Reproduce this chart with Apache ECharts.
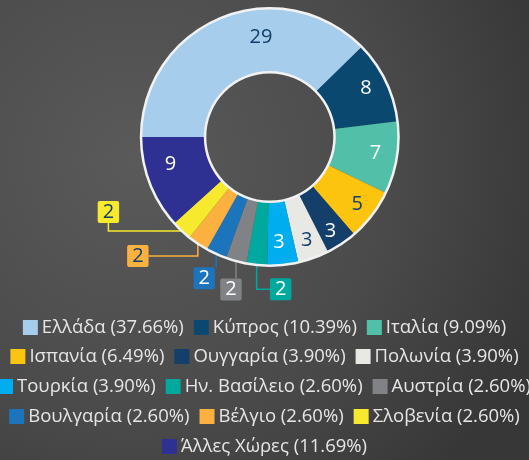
<!DOCTYPE html>
<html>
<head>
<meta charset="utf-8">
<script src="https://cdn.jsdelivr.net/npm/echarts@6/dist/echarts.min.js"></script>
<style>
html, body { margin: 0; padding: 0; }
#countriesPie { width: 529px; height: 460px; }
</style>
</head>
<body>
<div id="countriesPie"></div>
<script>
var categories = ['Ελλάδα', 'Κύπρος', 'Ιταλία', 'Ισπανία', 'Ουγγαρία', 'Πολωνία', 'Τουρκία',
    'Ην. Βασίλειο', 'Αυστρία', 'Βουλγαρία', 'Βέλγιο', 'Σλοβενία', 'Άλλες Χώρες']
var values = [29, 8, 7, 5, 3, 3, 3, 2, 2, 2, 2, 2, 9]
var colors = ['#a7cdec', '#0b4870', '#52c0a8', '#fcc30f', '#143f6b', '#e8e8e5', '#00aeef',
    '#00a99d', '#808285', '#1c75bc', '#fbb040', '#f7e92e', '#2e3192']
var labelColors = ['#123f6a', '#fff', '#fff', '#123f6a', '#fff', '#123f6a', '#fff',
    '#fff', '#fff', '#fff', '#123f6a', '#123f6a', '#fff']
// slices whose value sits in a box outside the ring
var calloutNames = ['Ην. Βασίλειο', 'Αυστρία', 'Βουλγαρία', 'Βέλγιο', 'Σλοβενία']
var legendRows = [
    ['Ελλάδα', 'Κύπρος', 'Ιταλία'],
    ['Ισπανία', 'Ουγγαρία', 'Πολωνία'],
    ['Τουρκία', 'Ην. Βασίλειο', 'Αυστρία'],
    ['Βουλγαρία', 'Βέλγιο', 'Σλοβενία'],
    ['Άλλες Χώρες']
]
var legendTops = [318, 347, 377, 407, 437]

var total = values.reduce(function (a, b) { return a + b }, 0)
var percentOf = {}
categories.forEach(function (c, i) {
    percentOf[c] = (values[i] / total * 100).toFixed(2)
})

// nudges for the labels inside the ring
var insideShift = {
    'Ελλάδα': [29, -7], 'Κύπρος': [6, -5], 'Ιταλία': [7, 0], 'Ισπανία': [8, 7],
    'Ουγγαρία': [5, 11], 'Πολωνία': [3, 9], 'Τουρκία': [-1, 6], 'Άλλες Χώρες': [-6, -9]
}
// where each callout box goes, relative to the slice's outer edge, and how its line bends
var calloutPlace = {
    'Σλοβενία': [-73, -19, 'hv'],
    'Βέλγιο': [-60, 12, 'vh'],
    'Βουλγαρία': [-12, 24, 'v'],
    'Αυστρία': [-5, 28, 'v'],
    'Ην. Βασίλειο': [24, 24, 'vh']
}

var font = '"Open Sans", "Noto Sans", sans-serif'

var pieData = categories.map(function (c, i) {
    var item = {
        name: c,
        value: values[i],
        itemStyle: { color: colors[i] },
        label: { color: labelColors[i] }
    }
    if (calloutNames.indexOf(c) >= 0) {
        item.label = {
            position: 'outside',
            color: labelColors[i],
            backgroundColor: colors[i],
            padding: [1, 5, 0, 5],
            borderRadius: 2,
            fontSize: 20,
            lineHeight: 21
        }
        item.labelLine = { show: true, length: 8, length2: 8, lineStyle: { color: colors[i], width: 1.5 } }
    }
    return item
})

var legends = legendRows.map(function (row, r) {
    return {
        data: row,
        top: legendTops[r],
        left: 'center',
        width: 560,
        padding: 0,
        icon: 'rect',
        itemWidth: 15,
        itemHeight: 15,
        itemGap: 10,
        selectedMode: false,
        formatter: function (name) {
            return name + ' (' + percentOf[name] + '%)'
        },
        textStyle: { color: '#e6e6e6', fontSize: 18.5, fontFamily: font, padding: [0, 0, 0, -1] }
    }
})

function ring(radius) {
    return {
        type: 'pie',
        silent: true,
        center: ['51%', 137],
        radius: radius,
        z: 5,
        label: { show: false },
        labelLine: { show: false },
        emphasis: { disabled: true },
        itemStyle: { color: '#f2f2f2' },
        data: [{ value: 1, name: '_ring' }]
    }
}

var chart = echarts.init(document.getElementById('countriesPie'))
chart.setOption({
    animation: false,
    backgroundColor: {
        type: 'radial', x: 0.25, y: 0.35, r: 0.95,
        colorStops: [
            { offset: 0, color: '#5a5a5a' },
            { offset: 0.6, color: '#4a4a4a' },
            { offset: 1, color: '#373737' }
        ]
    },
    legend: legends,
    series: [
        {
            type: 'pie',
            center: ['51%', 137],
            radius: [65, 129],
            startAngle: 180,
            clockwise: true,
            avoidLabelOverlap: false,
            emphasis: { disabled: true },
            label: {
                show: true,
                position: 'inside',
                formatter: '{c}',
                fontSize: 20,
                fontFamily: font
            },
            labelLine: { show: false },
            labelLayout: function (params) {
                var name = categories[params.dataIndex]
                var place = calloutPlace[name]
                if (!place) {
                    var s = insideShift[name] || [0, 0]
                    return { dx: s[0], dy: s[1] }
                }
                var a = params.labelLinePoints[0]
                var w = params.labelRect.width, h = params.labelRect.height
                var cx = a[0] + place[0], cy = a[1] + place[1]
                var pts
                if (place[2] === 'hv') {
                    pts = [a, [cx, a[1]], [cx, cy + (place[1] < 0 ? h / 2 : -h / 2)]]
                } else if (place[2] === 'vh') {
                    pts = [a, [a[0], cy], [cx + (place[0] < 0 ? w / 2 : -w / 2), cy]]
                } else {
                    pts = [a, [a[0], (a[1] + cy - h / 2) / 2], [a[0], cy - h / 2]]
                }
                return { x: cx, y: cy, align: 'center', verticalAlign: 'middle', labelLinePoints: pts }
            },
            data: pieData
        },
        ring([127.5, 130]),
        ring([63.5, 66])
    ]
})
</script>
</body>
</html>
